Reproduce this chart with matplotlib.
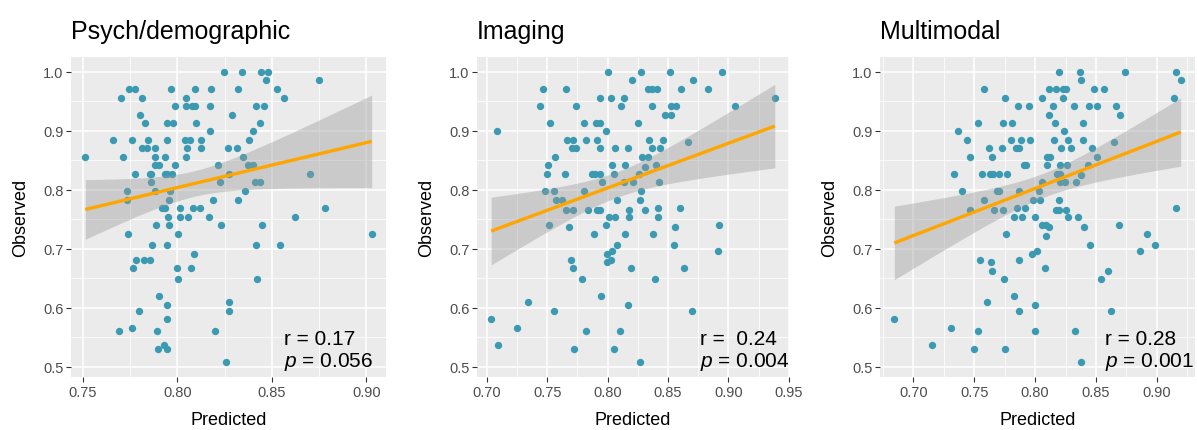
import numpy as np
import matplotlib
matplotlib.use("Agg")
import matplotlib.pyplot as plt
from matplotlib.ticker import MultipleLocator

plt.rcParams['font.family'] = ['Liberation Sans', 'DejaVu Sans']
plt.rcParams['mathtext.fontset'] = 'custom'
plt.rcParams['mathtext.it'] = 'Liberation Sans:italic'
plt.rcParams['mathtext.rm'] = 'Liberation Sans'

titles = ["Psych/demographic", "Imaging", "Multimodal"]
r_labels = ["r = 0.17", "r =  0.24", "r = 0.28"]
p_labels = ["0.056", "0.004", "0.001"]

# Psych/demographic panel
psych_x = [0.8246, 0.8343, 0.8441, 0.8481, 0.8470, 0.8747,
           0.7744, 0.7777, 0.7966, 0.8095, 0.8175, 0.8318, 0.8527,
           0.7701, 0.7813, 0.8044, 0.8562,
           0.7986, 0.8044, 0.8078, 0.8095, 0.8171, 0.8415, 0.8459,
           0.7804, 0.8288,
           0.7829, 0.7942, 0.7975, 0.8099, 0.8436,
           0.8171, 0.8398,
           0.7659, 0.7760, 0.7845, 0.7947, 0.8039, 0.8067, 0.8127, 0.8376,
           0.7813, 0.7836, 0.7883, 0.8049, 0.8125, 0.8267, 0.8316,
           0.7512, 0.7712, 0.7883, 0.7936, 0.8044, 0.8345,
           0.7882, 0.7901, 0.7989, 0.8217, 0.8373, 0.8401,
           0.7774, 0.7853, 0.7862, 0.7933, 0.7947, 0.7970, 0.8274, 0.8703,
           0.7862, 0.8224, 0.8412, 0.8436,
           0.7735, 0.7883, 0.7959, 0.8357,
           0.7735, 0.7956, 0.8189, 0.8322,
           0.7920, 0.7936, 0.8014, 0.8080, 0.8118, 0.8781,
           0.7951, 0.8012, 0.8057, 0.8168, 0.8624,
           0.7888, 0.7954, 0.8228, 0.8447,
           0.7737, 0.8004, 0.9028,
           0.7867, 0.7943, 0.8413, 0.8544,
           0.8088,
           0.7781, 0.7823, 0.7855,
           0.7763, 0.7996, 0.8074,
           0.8002, 0.8422,
           0.7901, 0.7942, 0.8272, 0.7795, 0.8272, 0.7942, 0.7761,
           0.7691, 0.7894, 0.8198,
           0.7926, 0.7899, 0.7942, 0.8256]
psych_y = [1.000, 1.000, 1.000, 1.000, 0.985, 0.985,
           0.970, 0.970, 0.970, 0.970, 0.970, 0.970, 0.970,
           0.956, 0.956, 0.956, 0.956,
           0.941, 0.941, 0.941, 0.941, 0.941, 0.941, 0.941,
           0.927, 0.927,
           0.913, 0.913, 0.913, 0.913, 0.913,
           0.899, 0.899,
           0.884, 0.884, 0.884, 0.884, 0.884, 0.884, 0.884, 0.884,
           0.870, 0.870, 0.870, 0.870, 0.870, 0.870, 0.870,
           0.855, 0.855, 0.855, 0.855, 0.855, 0.855,
           0.841, 0.841, 0.841, 0.841, 0.841, 0.841,
           0.826, 0.826, 0.826, 0.826, 0.826, 0.826, 0.826, 0.826,
           0.812, 0.812, 0.812, 0.812,
           0.798, 0.798, 0.798, 0.798,
           0.783, 0.783, 0.783, 0.783,
           0.769, 0.769, 0.769, 0.769, 0.769, 0.769,
           0.754, 0.754, 0.754, 0.754, 0.754,
           0.740, 0.740, 0.740, 0.740,
           0.725, 0.725, 0.725,
           0.706, 0.706, 0.706, 0.706,
           0.691,
           0.681, 0.681, 0.681,
           0.667, 0.667, 0.667,
           0.648, 0.648,
           0.619, 0.604, 0.609, 0.595, 0.595, 0.580, 0.566,
           0.560, 0.560, 0.560,
           0.537, 0.530, 0.530, 0.507]

# Imaging panel
imaging_x = [0.8005, 0.8276, 0.8517, 0.8950, 0.8205, 0.8711,
             0.7468, 0.7657, 0.8331, 0.8369, 0.8413, 0.8605, 0.8835,
             0.7939, 0.8030, 0.8136, 0.9385,
             0.7438, 0.7742, 0.8109, 0.8369, 0.8528, 0.8569, 0.9054,
             0.8475, 0.8528,
             0.7526, 0.7808, 0.7906, 0.7934, 0.8251,
             0.7082, 0.7988,
             0.7663, 0.7712, 0.7824, 0.7912, 0.8347, 0.8457, 0.8665,
             0.7706, 0.7742, 0.7939, 0.8065, 0.8166, 0.8364, 0.8438,
             0.7564, 0.8287, 0.8336,
             0.7504, 0.8035, 0.8145, 0.8405, 0.8314,
             0.7501, 0.7649, 0.7871, 0.7893, 0.7934, 0.8057, 0.8257,
             0.7953, 0.8139, 0.8208, 0.8427,
             0.7482, 0.7559, 0.7805, 0.8276,
             0.7572, 0.7624, 0.8076, 0.8268,
             0.8418, 0.8602,
             0.7654, 0.7717, 0.7838, 0.7912, 0.7939, 0.8180, 0.8314,
             0.8013, 0.8065, 0.8175, 0.8418,
             0.7512, 0.7988, 0.8922,
             0.7679, 0.8555,
             0.7887, 0.8145, 0.8377,
             0.8076, 0.8547,
             0.8040, 0.8911,
             0.7997,
             0.7701, 0.8030,
             0.7999,
             0.7712, 0.8197, 0.8637,
             0.7789, 0.8391,
             0.7947, 0.7345, 0.8166, 0.7553, 0.8700, 0.7036, 0.7252,
             0.7819, 0.8101,
             0.7093, 0.7720, 0.8051, 0.8271]
imaging_y = [1.000, 1.000, 1.000, 1.000, 0.985, 0.985,
             0.970, 0.970, 0.970, 0.970, 0.970, 0.970, 0.970,
             0.956, 0.956, 0.956, 0.956,
             0.941, 0.941, 0.941, 0.941, 0.941, 0.941, 0.941,
             0.927, 0.927,
             0.913, 0.913, 0.913, 0.913, 0.913,
             0.899, 0.899,
             0.884, 0.884, 0.884, 0.884, 0.884, 0.884, 0.881,
             0.870, 0.870, 0.870, 0.870, 0.870, 0.870, 0.870,
             0.855, 0.855, 0.855,
             0.841, 0.841, 0.841, 0.841, 0.838,
             0.826, 0.826, 0.826, 0.826, 0.826, 0.826, 0.826,
             0.812, 0.812, 0.812, 0.812,
             0.798, 0.798, 0.798, 0.798,
             0.783, 0.783, 0.783, 0.783,
             0.769, 0.769,
             0.765, 0.765, 0.765, 0.765, 0.765, 0.765, 0.765,
             0.754, 0.754, 0.754, 0.754,
             0.740, 0.740, 0.740,
             0.736, 0.736,
             0.725, 0.725, 0.725,
             0.706, 0.706,
             0.696, 0.696,
             0.691,
             0.681, 0.681,
             0.677,
             0.667, 0.667, 0.667,
             0.648, 0.648,
             0.619, 0.609, 0.604, 0.595, 0.595, 0.580, 0.566,
             0.560, 0.560,
             0.537, 0.530, 0.530, 0.507]

# Multimodal panel
multi_x = [0.8197, 0.8367, 0.8737, 0.9153, 0.8373, 0.9195,
           0.7578, 0.8112, 0.8173, 0.8227, 0.8255, 0.8482, 0.8562,
           0.7753, 0.8055, 0.8227, 0.9137,
           0.7860, 0.7951, 0.8145, 0.8323, 0.8441, 0.8507, 0.8668,
           0.8115, 0.8693,
           0.7532, 0.7740, 0.7811, 0.8162, 0.8395,
           0.7364, 0.8236,
           0.7441, 0.7800, 0.7888, 0.7962, 0.8151, 0.8271, 0.8392, 0.8644,
           0.7625, 0.7726, 0.7847, 0.7866, 0.8211, 0.8296, 0.8463,
           0.7466, 0.7649, 0.8096, 0.8123, 0.8510,
           0.7907, 0.7929, 0.8096, 0.8205, 0.8260, 0.8430,
           0.7334, 0.7562, 0.7633, 0.7652, 0.7707, 0.7767, 0.8181, 0.8208, 0.8373,
           0.8055, 0.8208, 0.8247, 0.8334,
           0.7397, 0.7688, 0.7704, 0.7871, 0.8030,
           0.7578, 0.7981, 0.8041, 0.8200,
           0.7849, 0.7915, 0.9153,
           0.7463, 0.7666, 0.7740, 0.8173, 0.8192, 0.8255,
           0.7830, 0.7896, 0.7995, 0.8271, 0.8348,
           0.8058, 0.8090, 0.8685,
           0.8115, 0.8400,
           0.7759, 0.8921,
           0.8090,
           0.8452, 0.8981,
           0.8019, 0.8863,
           0.7973,
           0.7548, 0.7871,
           0.7638,
           0.8077,
           0.7649, 0.8597,
           0.7748, 0.8537,
           0.7827, 0.7605, 0.8003, 0.7866, 0.8619, 0.6844, 0.7307,
           0.7529, 0.8003, 0.8329,
           0.7151, 0.7496, 0.7756, 0.8378]
multi_y = [1.000, 1.000, 1.000, 1.000, 0.985, 0.985,
           0.970, 0.970, 0.970, 0.970, 0.970, 0.970, 0.970,
           0.956, 0.956, 0.956, 0.956,
           0.941, 0.941, 0.941, 0.941, 0.941, 0.941, 0.941,
           0.927, 0.927,
           0.913, 0.913, 0.913, 0.913, 0.913,
           0.899, 0.899,
           0.884, 0.884, 0.884, 0.884, 0.884, 0.884, 0.884, 0.881,
           0.870, 0.870, 0.870, 0.870, 0.870, 0.870, 0.870,
           0.855, 0.855, 0.855, 0.855, 0.855,
           0.841, 0.841, 0.841, 0.841, 0.841, 0.841,
           0.826, 0.826, 0.826, 0.826, 0.826, 0.826, 0.826, 0.826, 0.824,
           0.812, 0.812, 0.812, 0.812,
           0.798, 0.798, 0.798, 0.798, 0.798,
           0.783, 0.783, 0.783, 0.783,
           0.769, 0.769, 0.769,
           0.765, 0.765, 0.765, 0.765, 0.765, 0.765,
           0.754, 0.754, 0.754, 0.754, 0.754,
           0.740, 0.740, 0.740,
           0.736, 0.736,
           0.725, 0.725,
           0.721,
           0.706, 0.706,
           0.696, 0.696,
           0.691,
           0.681, 0.681,
           0.677,
           0.667,
           0.662, 0.662,
           0.648, 0.648,
           0.619, 0.609, 0.604, 0.595, 0.595, 0.580, 0.566,
           0.560, 0.560, 0.560,
           0.537, 0.530, 0.530, 0.507]

panels = [(psych_x, psych_y), (imaging_x, imaging_y), (multi_x, multi_y)]

point_col = "#3B9AB2"
T975 = 1.979  # t quantile, df ~ 130

fig = plt.figure(figsize=(11.97, 4.31), dpi=100)
W, H = 1197, 431
boxes = [(71, 386), (477, 789), (880, 1195)]
top, bottom = 58, 378
label_x = [0.676, 0.715, 0.714]

for i, ((xs, ys), (x0, x1)) in enumerate(zip(panels, boxes)):
    xs = np.array(xs)
    ys = np.array(ys)
    ax = fig.add_axes([x0 / W, 1 - bottom / H, (x1 - x0) / W, (bottom - top) / H])
    ax.set_facecolor("#EBEBEB")
    ax.scatter(xs, ys, s=28, color=point_col, linewidths=0, zorder=2)

    # linear fit with 95% confidence band, like geom_smooth(method = "lm")
    n = len(xs)
    b1, b0 = np.polyfit(xs, ys, 1)
    xx = np.linspace(xs.min(), xs.max(), 80)
    yy = b0 + b1 * xx
    resid = ys - (b0 + b1 * xs)
    s = np.sqrt(np.sum(resid ** 2) / (n - 2))
    se = s * np.sqrt(1 / n + (xx - xs.mean()) ** 2 / np.sum((xs - xs.mean()) ** 2))
    ax.fill_between(xx, yy - T975 * se, yy + T975 * se, color="#999999", alpha=0.4,
                    linewidth=0, zorder=3)
    ax.plot(xx, yy, color="#FFA500", lw=2.4, zorder=4, solid_capstyle="butt")

    xr = xs.max() - xs.min()
    yr = ys.max() - ys.min()
    ax.set_xlim(xs.min() - 0.05 * xr, xs.max() + 0.05 * xr)
    ax.set_ylim(ys.min() - 0.05 * yr, ys.max() + 0.05 * yr)

    ax.xaxis.set_major_locator(MultipleLocator(0.05))
    ax.xaxis.set_minor_locator(MultipleLocator(0.025))
    ax.yaxis.set_major_locator(MultipleLocator(0.1))
    ax.yaxis.set_minor_locator(MultipleLocator(0.05))
    ax.xaxis.set_major_formatter(plt.FuncFormatter(lambda v, p: f"{v:.2f}"))
    ax.yaxis.set_major_formatter(plt.FuncFormatter(lambda v, p: f"{v:.1f}"))
    ax.grid(which="major", color="white", lw=1.1, zorder=0)
    ax.grid(which="minor", color="white", lw=0.55, zorder=0)
    ax.set_axisbelow(True)
    for sp in ax.spines.values():
        sp.set_visible(False)
    ax.tick_params(which="major", length=3.5, width=0.8, color="#333333",
                   labelcolor="#4D4D4D", labelsize=10.5, pad=2)
    ax.tick_params(which="minor", length=0)

    ax.set_xlabel("Predicted", fontsize=13, labelpad=9)
    ax.set_ylabel("Observed", fontsize=13, labelpad=10)
    ax.set_title(titles[i], fontsize=18, loc="left", pad=14, x=0.0)

    ax.text(label_x[i], 0.103, r_labels[i], transform=ax.transAxes, ha="left",
            va="baseline", fontsize=15)
    ax.text(label_x[i], 0.035, r"$p$ = " + p_labels[i], transform=ax.transAxes,
            ha="left", va="baseline", fontsize=15)

fig.savefig("out.png", dpi=100)
